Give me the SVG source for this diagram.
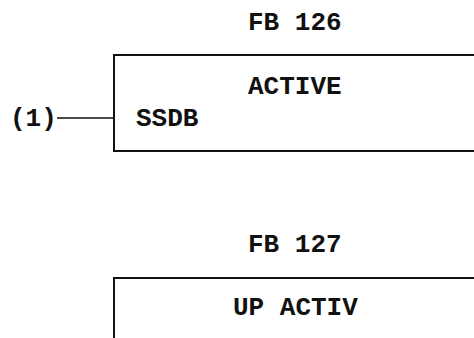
<svg xmlns="http://www.w3.org/2000/svg" width="474" height="338" viewBox="0 0 474 338">
<style>
text{font-family:"Liberation Mono","Courier New",monospace;font-weight:bold;font-size:26px;fill:#111}
.box{fill:none;stroke:#111;stroke-width:2}
.wire{stroke:#111;stroke-width:1.5;fill:none}
</style>
<rect width="474" height="338" fill="#fff"/>
<g id="fb126">
<text x="248" y="30">FB 126</text>
<path class="box" d="M480,55 H114 V151 H480"/>
<text x="248" y="94">ACTIVE</text>
<text x="136" y="126">SSDB</text>
</g>
<g id="input1">
<text x="10" y="126">(1)</text>
</g>
<g id="fb127">
<text x="248" y="252">FB 127</text>
<path class="box" d="M480,278 H114 V340"/>
<text x="233" y="315">UP ACTIV</text>
</g>
<g id="connectors">
<line class="wire" x1="57" y1="118" x2="114" y2="118"/>
</g>
</svg>
